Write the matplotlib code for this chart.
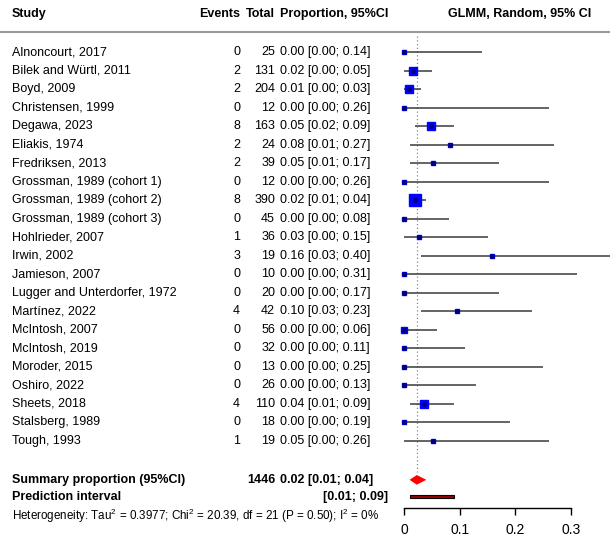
import matplotlib.pyplot as plt
import matplotlib.transforms as mtransforms
from matplotlib.lines import Line2D
import numpy as np

plt.rcParams['font.family'] = ['Liberation Sans', 'DejaVu Sans']
plt.rcParams['mathtext.fontset'] = 'custom'
plt.rcParams['mathtext.rm'] = 'Liberation Sans'
plt.rcParams['mathtext.default'] = 'rm'

studies = ["Alnoncourt, 2017", "Bilek and Würtl, 2011", "Boyd, 2009", "Christensen, 1999",
           "Degawa, 2023", "Eliakis, 1974", "Fredriksen, 2013", "Grossman, 1989 (cohort 1)",
           "Grossman, 1989 (cohort 2)", "Grossman, 1989 (cohort 3)", "Hohlrieder, 2007",
           "Irwin, 2002", "Jamieson, 2007", "Lugger and Unterdorfer, 1972", "Martínez, 2022",
           "McIntosh, 2007", "McIntosh, 2019", "Moroder, 2015", "Oshiro, 2022", "Sheets, 2018",
           "Stalsberg, 1989", "Tough, 1993"]
events = [0, 2, 2, 0, 8, 2, 2, 0, 8, 0, 1, 3, 0, 0, 4, 0, 0, 0, 0, 4, 0, 1]
totals = [25, 131, 204, 12, 163, 24, 39, 12, 390, 45, 36, 19, 10, 20, 42, 56, 32, 13, 26, 110, 18, 19]
ci_lo = [0.00, 0.00, 0.00, 0.00, 0.02, 0.01, 0.01, 0.00, 0.01, 0.00, 0.00,
         0.03, 0.00, 0.00, 0.03, 0.00, 0.00, 0.00, 0.00, 0.01, 0.00, 0.00]
ci_hi = [0.14, 0.05, 0.03, 0.26, 0.09, 0.27, 0.17, 0.26, 0.04, 0.08, 0.15,
         0.40, 0.31, 0.17, 0.23, 0.06, 0.11, 0.25, 0.13, 0.09, 0.19, 0.26]
# approximate relative weights (read from square sizes)
weights = [1.4, 5.5, 7.0, 1.1, 7.9, 1.3, 2.0, 1.1, 14.0, 2.2, 2.0,
           1.3, 1.0, 1.4, 2.2, 2.9, 1.9, 1.1, 1.6, 4.8, 1.4, 1.0]

summary_total = 1446
summary_est, summary_lo, summary_hi = 0.023, 0.01, 0.04
pred_lo, pred_hi = 0.01, 0.09
xticks = [0, 0.1, 0.2, 0.3]

prop = np.array(events) / np.array(totals)
n = len(studies)

fig = plt.figure(figsize=(6.1, 5.38), dpi=100)
ax = fig.add_axes([395 / 610, 30 / 538, 215 / 610, 472 / 538])
ax.set_xlim(-9 / 557, 206 / 557)
ax.set_ylim(24.62, -0.864)

tr = mtransforms.blended_transform_factory(fig.transFigure, ax.transData)
fs = 9

def txt(xpix, y, s, ha='left', bold=False, size=fs):
    fig.text(xpix / 610, y, s, transform=tr, ha=ha, va='center', fontsize=size,
             fontweight='bold' if bold else 'normal', clip_on=False)

# header
hy = -2.05
txt(12, hy, "Study", bold=True)
txt(240, hy, "Events", ha='right', bold=True)
txt(275, hy, "Total", ha='right', bold=True)
txt(280, hy, "Proportion, 95%CI", bold=True)
txt(520, hy, "GLMM, Random, 95% CI", ha='center', bold=True)
fig.add_artist(Line2D([0, 1], [1 - 32 / 538] * 2, transform=fig.transFigure,
                      color='#999999', lw=1.5))

# rows
for i in range(n):
    txt(12, i, studies[i])
    txt(240, i, str(events[i]), ha='right')
    txt(275, i, str(totals[i]), ha='right')
    txt(280, i, f"{prop[i]:.2f} [{ci_lo[i]:.2f}; {ci_hi[i]:.2f}]")

# reference line
ax.plot([summary_est, summary_est], [-0.864, 22.7], color='#888888', ls=(0, (1, 2)), lw=0.9)

# CIs and squares
ax.hlines(range(n), ci_lo, ci_hi, color='#3a3a3a', lw=1.1)
sq = 3.2 * np.sqrt(weights) * 0.72
for i in range(n):
    ax.plot(prop[i], i, marker='s', ms=sq[i], color='#0000ff', mec='#0000ff', ls='none')
    ax.plot(prop[i], i, marker='o', ms=2.6, color='#000080', ls='none')

# summary
sy = n + 1.1
txt(12, sy, "Summary proportion (95%CI)", bold=True)
txt(275, sy, str(summary_total), ha='right', bold=True)
txt(280, sy, f"{summary_est:.2f} [{summary_lo:.2f}; {summary_hi:.2f}]", bold=True)
h = 0.26
ax.fill([summary_lo, summary_est, summary_hi, summary_est], [sy, sy - h, sy, sy + h],
        color='#ff0000', lw=0)

py = n + 2.0
txt(12, py, "Prediction interval", bold=True)
txt(388, py, f"[{pred_lo:.2f}; {pred_hi:.2f}]", ha='right', bold=True)
ax.barh(py, pred_hi - pred_lo, left=pred_lo, height=0.2, color='#9b0000',
        edgecolor='black', lw=0.8)

txt(12, n + 3.05, r"Heterogeneity: Tau$^2$ = 0.3977; Chi$^2$ = 20.39, df = 21 (P = 0.50); I$^2$ = 0%",
    size=8.4)

# axis
for s in ['top', 'left', 'right']:
    ax.spines[s].set_visible(False)
ax.spines['bottom'].set_bounds(0, 0.3)
ax.spines['bottom'].set_linewidth(1.0)
ax.set_yticks([])
ax.set_xticks(xticks)
ax.set_xticklabels(["0", "0.1", "0.2", "0.3"], fontsize=10)
ax.tick_params(axis='x', length=5, width=1.0, pad=6)
ax.patch.set_alpha(0)

fig.savefig("out.png", dpi=100)
